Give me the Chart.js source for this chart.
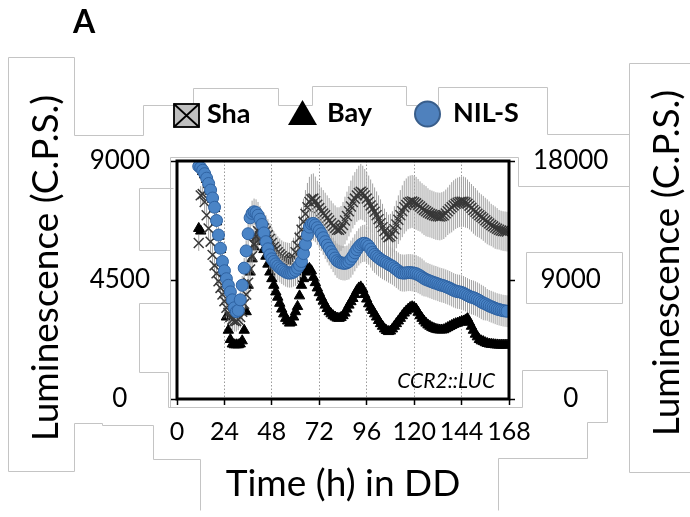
<!DOCTYPE html>
<html>
<head>
<meta charset="utf-8">
<script src="https://cdn.jsdelivr.net/npm/chart.js@4.4.0/dist/chart.umd.min.js"></script>
<style>
  html, body { margin: 0; padding: 0; background: #fff; }
</style>
</head>
<body>
<canvas id="lumChart" width="690" height="517"></canvas>
<script>
// sampling times (h in DD), hourly from 11 h to 167 h
const hours = [
  11, 12, 13, 14, 15, 16, 17, 18, 19, 20,
  21, 22, 23, 24, 25, 26, 27, 28, 29, 30,
  31, 32, 33, 34, 35, 36, 37, 38, 39, 40,
  41, 42, 43, 44, 45, 46, 47, 48, 49, 50,
  51, 52, 53, 54, 55, 56, 57, 58, 59, 60,
  61, 62, 63, 64, 65, 66, 67, 68, 69, 70,
  71, 72, 73, 74, 75, 76, 77, 78, 79, 80,
  81, 82, 83, 84, 85, 86, 87, 88, 89, 90,
  91, 92, 93, 94, 95, 96, 97, 98, 99, 100,
  101, 102, 103, 104, 105, 106, 107, 108, 109, 110,
  111, 112, 113, 114, 115, 116, 117, 118, 119, 120,
  121, 122, 123, 124, 125, 126, 127, 128, 129, 130,
  131, 132, 133, 134, 135, 136, 137, 138, 139, 140,
  141, 142, 143, 144, 145, 146, 147, 148, 149, 150,
  151, 152, 153, 154, 155, 156, 157, 158, 159, 160,
  161, 162, 163, 164, 165, 166, 167
];

const shaVals = [
  5900, 7700, 7750, 7450, 6950, 6450, 5950, 5450, 5050, 4750,
  4450, 4200, 3950, 3700, 3450, 3250, 3100, 3000, 2950, 2950,
  3000, 3100, 3300, 3600, 3950, 4400, 4900, 5400, 5850, 6150,
  6350, 6480, 6510, 6450, 6350, 6200, 6050, 5900, 5750, 5650,
  5550, 5470, 5400, 5330, 5280, 5230, 5200, 5250, 5350, 5550,
  5800, 6100, 6400, 6700, 7000, 7250, 7450, 7550, 7580, 7480,
  7350, 7220, 7100, 7020, 6950, 6850, 6750, 6650, 6550, 6470,
  6400, 6400, 6450, 6580, 6750, 6920, 7100, 7280, 7450, 7580,
  7700, 7790, 7840, 7790, 7700, 7580, 7450, 7320, 7200, 7080,
  6950, 6800, 6650, 6500, 6350, 6220, 6120, 6150, 6250, 6420,
  6600, 6780, 6950, 7100, 7250, 7340, 7420, 7450, 7470, 7440,
  7400, 7340, 7280, 7210, 7150, 7100, 7050, 7010, 6980, 6950,
  6920, 6910, 6900, 6920, 6950, 7020, 7100, 7180, 7250, 7320,
  7380, 7420, 7450, 7460, 7460, 7430, 7380, 7310, 7230, 7150,
  7080, 7010, 6950, 6890, 6830, 6760, 6700, 6640, 6580, 6530,
  6480, 6440, 6400, 6370, 6350, 6340, 6330
];
const shaErr = [
  300, 350, 400, 400, 400, 400, 400, 400, 400, 400,
  400, 400, 400, 400, 400, 400, 400, 400, 400, 400,
  400, 400, 400, 450, 500, 550, 600, 600, 600, 600,
  600, 600, 600, 600, 600, 600, 600, 600, 600, 600,
  600, 600, 600, 620, 650, 680, 700, 720, 750, 780,
  800, 830, 850, 880, 900, 920, 950, 950, 950, 930,
  900, 900, 900, 880, 850, 850, 850, 850, 850, 850,
  850, 850, 850, 870, 900, 920, 950, 980, 1000, 1000,
  1000, 1030, 1050, 1030, 1000, 1000, 1000, 980, 950, 920,
  900, 900, 900, 880, 850, 850, 850, 850, 850, 870,
  900, 920, 950, 980, 1000, 1000, 1000, 1000, 1000, 1000,
  1000, 980, 950, 950, 950, 950, 920, 900, 900, 900,
  900, 900, 900, 900, 900, 900, 900, 920, 950, 950,
  950, 950, 950, 950, 950, 950, 920, 900, 900, 900,
  900, 880, 850, 850, 850, 850, 850, 830, 800, 800,
  800, 780, 750, 750, 750, 750, 750
];

// Bay runs hidden under the NIL-S / Sha marks on the first fall and rise
const bayVals = [
  6450, 6350, 8600, 8470, 8300, 8100, 7850, 7550, 7200, 6700,
  6150, 5650, 5150, 4750, 3100, 2600, 2250, 2080, 2050, 2050,
  2050, 2080, 2200, 2600, 3300, 4300, 4800, 5300, 5750, 6050,
  6250, 6200, 5950, 5650, 5400, 5100, 4800, 4550, 4300, 4050,
  3850, 3620, 3400, 3220, 3050, 2950, 2870, 2900, 3100, 3300,
  3500, 3900, 4300, 4550, 4800, 4900, 4940, 4850, 4600, 4400,
  4200, 4020, 3850, 3700, 3550, 3420, 3300, 3220, 3150, 3100,
  3060, 3050, 3080, 3150, 3250, 3400, 3550, 3680, 3800, 3950,
  4100, 4200, 4240, 4150, 3950, 3780, 3600, 3470, 3350, 3220,
  3100, 2970, 2850, 2750, 2650, 2590, 2550, 2570, 2650, 2750,
  2850, 2950, 3050, 3150, 3250, 3330, 3400, 3460, 3490, 3460,
  3400, 3280, 3150, 3050, 2950, 2870, 2800, 2750, 2700, 2670,
  2640, 2620, 2610, 2610, 2620, 2660, 2700, 2740, 2780, 2820,
  2850, 2870, 2900, 2930, 2950, 2990, 3050, 2900, 2750, 2600,
  2450, 2350, 2250, 2200, 2170, 2130, 2100, 2080, 2070, 2060,
  2050, 2045, 2040, 2040, 2040, 2040, 2040
];

const nilVals = [
  8800, 8750, 8650, 8520, 8350, 8150, 7900, 7600, 7250, 6750,
  6200, 5700, 5200, 4850, 4550, 4300, 4050, 3750, 3450, 3300,
  3350, 3750, 4300, 4950, 5600, 6250, 6850, 7020, 7080, 7050,
  6950, 6800, 6600, 6280, 5950, 5680, 5450, 5300, 5200, 5110,
  5030, 4960, 4900, 4850, 4800, 4770, 4760, 4770, 4800, 4860,
  4950, 5060, 5200, 5500, 5850, 6200, 6500, 6620, 6640, 6580,
  6480, 6370, 6250, 6100, 5950, 5820, 5700, 5570, 5450, 5330,
  5230, 5180, 5150, 5135, 5130, 5150, 5200, 5290, 5400, 5530,
  5650, 5750, 5830, 5880, 5890, 5850, 5780, 5670, 5550, 5470,
  5400, 5340, 5280, 5230, 5190, 5150, 5100, 5060, 5020, 4960,
  4900, 4840, 4780, 4765, 4760, 4770, 4780, 4780, 4770, 4760,
  4740, 4700, 4660, 4610, 4560, 4520, 4490, 4460, 4430, 4400,
  4380, 4350, 4320, 4300, 4280, 4250, 4220, 4190, 4150, 4110,
  4080, 4060, 4050, 4030, 4000, 3960, 3920, 3880, 3850, 3830,
  3800, 3760, 3720, 3670, 3630, 3600, 3560, 3520, 3490, 3460,
  3430, 3400, 3380, 3360, 3340, 3330, 3320
];
const nilErr = [
  200, 200, 200, 220, 250, 250, 250, 280, 300, 300,
  300, 300, 300, 300, 300, 300, 300, 300, 300, 300,
  300, 320, 350, 380, 400, 430, 450, 480, 500, 500,
  500, 500, 500, 520, 550, 550, 550, 550, 550, 550,
  550, 550, 550, 550, 550, 550, 550, 550, 550, 580,
  600, 600, 600, 620, 650, 650, 650, 650, 650, 650,
  650, 650, 650, 650, 650, 650, 650, 650, 650, 650,
  650, 650, 650, 650, 650, 650, 680, 700, 700, 700,
  700, 700, 700, 700, 700, 700, 700, 700, 700, 700,
  700, 700, 700, 700, 700, 700, 700, 700, 700, 700,
  700, 700, 700, 700, 700, 700, 700, 700, 700, 700,
  700, 700, 700, 700, 680, 650, 650, 650, 650, 650,
  650, 650, 650, 650, 650, 650, 650, 650, 650, 650,
  650, 650, 650, 650, 650, 650, 650, 650, 650, 650,
  650, 650, 650, 650, 650, 630, 600, 600, 600, 600,
  600, 600, 600, 600, 600, 600, 600
];

const xTicks = [0, 24, 48, 72, 96, 120, 144, 168];
const leftTicks = [0, 4500, 9000];
const rightTicks = [0, 9000, 18000];

const yTitle = "Luminescence (C.P.S.)";
const xTitle = "Time (h) in DD";
const panelLabel = "A";
const reporter = "CCR2::LUC";

const FONT = "Lato";
const pts = vals => hours.map((h, i) => ({ x: h, y: vals[i] }));

// light grey outlines left over from the pasted-together figure
const pasteLines = [
  [[74,135],[74,57],[8,57],[8,471],[74,471],[74,423],[102,423],[102,425],[153,425],[153,459],[200,459],[200,510]],
  [[74,135],[143,135],[143,105],[193,105],[193,88],[278,88],[278,105],[312,105],[312,86],[406,86],[406,105],[438,105],[438,87],[547,87],[547,134],[629,134]],
  [[690,63],[629,63],[629,472],[690,472]],
  [[173,188],[139,188],[139,250],[170,250],[170,303],[139,303],[139,372],[168,372],[168,407]],
  [[170,407],[170,157],[518,157],[518,186],[629,186]],
  [[168,407],[522,407],[522,370],[607,370],[607,422],[587,422],[587,458],[498,458],[498,510]],
  [[526,252],[622,252],[622,303],[526,303],[526,252]]
];

const errorBars = {
  id: 'errorBars',
  beforeDatasetDraw(chart, args) {
    const ds = chart.data.datasets[args.index];
    if (!ds.err) return;
    const { ctx, chartArea: a, scales: { x, y } } = chart;
    ctx.save();
    ctx.beginPath();
    ctx.rect(a.left, a.top, a.width, a.height);
    ctx.clip();
    ctx.strokeStyle = '#a2a2a2';
    ctx.lineWidth = 1;
    ctx.beginPath();
    ds.data.forEach((p, i) => {
      const px = x.getPixelForValue(p.x);
      ctx.moveTo(px, y.getPixelForValue(p.y - ds.err[i]));
      ctx.lineTo(px, y.getPixelForValue(p.y + ds.err[i]));
    });
    ctx.stroke();
    ctx.restore();
  }
};

const decor = {
  id: 'decor',
  beforeDraw(chart) {
    const ctx = chart.ctx;
    ctx.save();
    ctx.fillStyle = '#fff';
    ctx.fillRect(0, 0, chart.width, chart.height);
    ctx.strokeStyle = '#c4c4c4';
    ctx.lineWidth = 1;
    pasteLines.forEach(line => {
      ctx.beginPath();
      line.forEach(([px, py], i) => i ? ctx.lineTo(px + 0.5, py + 0.5) : ctx.moveTo(px + 0.5, py + 0.5));
      ctx.stroke();
    });
    ctx.restore();
  },
  afterDraw(chart) {
    const { ctx, chartArea: a } = chart;
    ctx.save();
    // black frame
    ctx.strokeStyle = '#000';
    ctx.lineWidth = 3;
    ctx.strokeRect(a.left, a.top, a.right - a.left, a.bottom - a.top);

    ctx.fillStyle = '#000';
    // axis titles, both read bottom to top
    ctx.font = `37px ${FONT}`;
    ctx.textAlign = 'center';
    ctx.textBaseline = 'middle';
    [[46, 268], [667, 263]].forEach(([cx, cy]) => {
      ctx.save();
      ctx.translate(cx, cy);
      ctx.rotate(-Math.PI / 2);
      ctx.fillText(yTitle, 0, 0);
      ctx.restore();
    });

    // panel letter
    ctx.font = `bold 32px ${FONT}`;
    ctx.textAlign = 'left';
    ctx.textBaseline = 'alphabetic';
    ctx.fillText(panelLabel, 73, 33);

    // reporter label
    ctx.font = `italic 21px ${FONT}`;
    ctx.textAlign = 'right';
    ctx.fillText(reporter, 495, 388);

    // legend
    const lbl = name => chart.data.datasets.find(d => d.label === name).label;
    ctx.font = `bold 27px ${FONT}`;
    ctx.textAlign = 'left';

    ctx.fillStyle = '#bfbfbf';
    ctx.fillRect(174, 104, 25, 23);
    ctx.strokeStyle = '#000';
    ctx.lineWidth = 1.8;
    ctx.strokeRect(174, 104, 25, 23);
    ctx.beginPath();
    ctx.moveTo(174, 104); ctx.lineTo(199, 127);
    ctx.moveTo(199, 104); ctx.lineTo(174, 127);
    ctx.stroke();
    ctx.fillStyle = '#000';
    ctx.fillText(lbl('Sha'), 207, 123);

    ctx.beginPath();
    ctx.moveTo(302.5, 100); ctx.lineTo(317, 125); ctx.lineTo(288, 125); ctx.closePath();
    ctx.fill();
    ctx.fillText(lbl('Bay'), 327, 122);

    ctx.beginPath();
    ctx.arc(427.5, 114, 12.5, 0, Math.PI * 2);
    ctx.fillStyle = '#4f81bd';
    ctx.fill();
    ctx.strokeStyle = '#385d8a';
    ctx.lineWidth = 2;
    ctx.stroke();
    ctx.fillStyle = '#000';
    ctx.fillText(lbl('NIL-S'), 453, 122);

    ctx.restore();
  }
};

const tickFont = { family: FONT, size: 26 };

new Chart(document.getElementById('lumChart'), {
  type: 'scatter',
  data: {
    datasets: [
      {
        label: 'NIL-S', data: pts(nilVals), err: nilErr,
        pointStyle: 'circle', pointRadius: 6,
        pointBackgroundColor: '#4a84c6', pointBorderColor: '#2f63a3', pointBorderWidth: 1
      },
      {
        label: 'Sha', data: pts(shaVals), err: shaErr,
        pointStyle: 'crossRot', pointRadius: 7,
        pointBackgroundColor: '#383838', pointBorderColor: '#383838', pointBorderWidth: 1.5
      },
      {
        label: 'Bay', data: pts(bayVals),
        pointStyle: 'triangle', pointRadius: 6,
        pointBackgroundColor: '#000', pointBorderColor: '#000', pointBorderWidth: 1
      }
    ]
  },
  options: {
    responsive: false,
    animation: false,
    devicePixelRatio: 1,
    layout: { padding: { top: 161, left: 0, right: 0, bottom: 0 } },
    plugins: { legend: { display: false }, tooltip: { enabled: false } },
    scales: {
      x: {
        type: 'linear', min: 0, max: 168,
        afterBuildTicks: s => { s.ticks = xTicks.map(v => ({ value: v })); },
        afterFit: s => { s.height = 118; },
        ticks: { font: { family: FONT, size: 25 }, color: '#000', padding: 12, maxRotation: 0, autoSkip: false, callback: v => String(v) },
        grid: { color: '#9a9a9a', lineWidth: 1, tickLength: 6, tickColor: '#000', tickWidth: 1.5, tickBorderDash: [] },
        border: { display: false, dash: [1.5, 2] },
        title: { display: true, text: xTitle, color: '#000', font: { family: FONT, size: 37 }, padding: { top: 0, bottom: 11 } }
      },
      y: {
        position: 'left', min: 0, max: 9000,
        afterBuildTicks: s => { s.ticks = leftTicks.map(v => ({ value: v })); },
        afterFit: s => { s.width = 177; },
        ticks: { font: tickFont, color: '#000', padding: 21, crossAlign: 'center', callback: v => String(v) },
        grid: { drawOnChartArea: false, tickLength: 6, tickColor: '#000', tickWidth: 1.5 },
        border: { display: false }
      },
      y2: {
        position: 'right', min: 0, max: 18000,
        afterBuildTicks: s => { s.ticks = rightTicks.map(v => ({ value: v })); },
        afterFit: s => { s.width = 181; },
        ticks: { font: tickFont, color: '#000', padding: 18, crossAlign: 'center', callback: v => String(v) },
        grid: { drawOnChartArea: false, tickLength: 6, tickColor: '#000', tickWidth: 1.5 },
        border: { display: false }
      }
    }
  },
  plugins: [decor, errorBars]
});
</script>
</body>
</html>
